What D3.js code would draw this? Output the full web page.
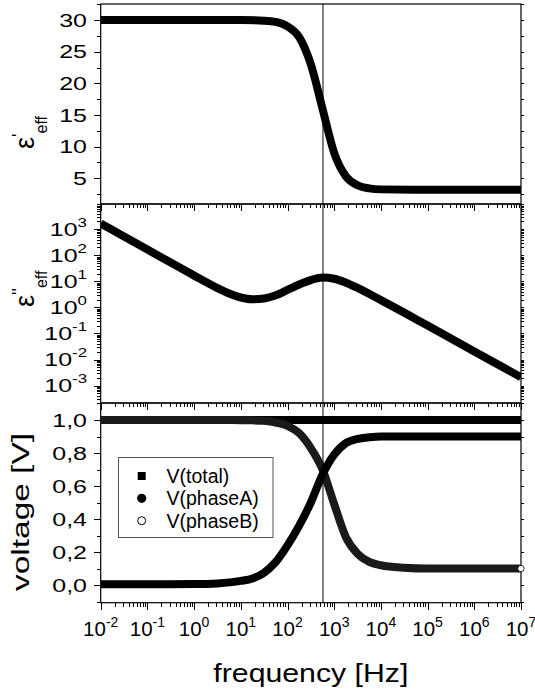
<!DOCTYPE html>
<html><head><meta charset="utf-8">
<script src="https://cdn.jsdelivr.net/npm/d3@7"></script>
<style>body{margin:0;background:#fff}</style>
</head><body>
<svg id="c" width="535" height="695"></svg>
<script>
// ---------- data ----------
const freqEps1 = [1e-2, 1e-1, 1, 10, 31.6, 56.2, 100, 178, 316, 562, 1000, 1780, 3160, 5620, 1e4, 1e5, 1e6, 1e7];
const eps1     = [30, 30, 30, 30, 29.9, 29.7, 29.0, 27.3, 23.0, 16.0, 9.0, 5.3, 3.9, 3.4, 3.25, 3.2, 3.2, 3.2];

const freqEps2 = [1e-2, 3.16e-2, 1e-1, 3.16e-1, 1, 3.16, 5.62, 10, 17.8, 31.6, 56.2, 100, 178, 316, 562, 1000, 1780, 3160, 1e4, 3.16e4, 1e5, 1e6, 1e7];
const eps2     = [1660, 525, 166, 52.5, 16.6, 5.5, 3.4, 2.4, 2.04, 2.19, 2.9, 4.7, 7.6, 11.2, 14.1, 12.6, 8.9, 5.6, 1.9, 0.63, 0.2, 0.0204, 0.0021];

const freqV   = [1e-2, 1e-1, 1, 3.16, 10, 17.8, 31.6, 56.2, 100, 178, 316, 562, 1000, 1780, 3160, 5620, 1e4, 3.16e4, 1e5, 1e6, 1e7];
const vTotal  = [1, 1, 1, 1, 1, 1, 1, 1, 1, 1, 1, 1, 1, 1, 1, 1, 1, 1, 1, 1, 1];
const vPhaseA = [0.005, 0.005, 0.006, 0.01, 0.025, 0.04, 0.075, 0.14, 0.24, 0.36, 0.50, 0.67, 0.79, 0.86, 0.885, 0.895, 0.9, 0.9, 0.9, 0.9, 0.9];
const vPhaseB = [1.0, 1.0, 1.0, 1.0, 0.999, 0.998, 0.995, 0.985, 0.965, 0.92, 0.83, 0.70, 0.49, 0.29, 0.19, 0.14, 0.12, 0.105, 0.1, 0.1, 0.1];

const markerFreq = [575];

const xTickExps  = [-2, -1, 0, 1, 2, 3, 4, 5, 6, 7];
const y1Ticks    = [5, 10, 15, 20, 25, 30];
const y2TickExps = [-3, -2, -1, 0, 1, 2, 3];
const y3Ticks    = [0, 0.2, 0.4, 0.6, 0.8, 1.0];
const y3Labels   = ["0,0", "0,2", "0,4", "0,6", "0,8", "1,0"];
const legendLabels = ["V(total)", "V(phaseA)", "V(phaseB)"];

// ---------- setup ----------
const FONT = "'Liberation Sans', Arial, Helvetica, sans-serif";
const svg = d3.select("#c").style("font-family", FONT);
const X0 = 100.7, X1 = 521;
const x = d3.scaleLog().domain([1e-2, 1e7]).range([X0, X1]);
const P = [{t: 4, b: 204}, {t: 204, b: 403}, {t: 403, b: 602.7}];
const y1 = d3.scaleLinear().domain([0.94, 32.53]).range([P[0].b, P[0].t]);
const y2 = d3.scaleLog().domain([Math.pow(10, -3.67), Math.pow(10, 3.97)]).range([P[1].b, P[1].t]);
const y3 = d3.scaleLinear().domain([-0.107, 1.103]).range([P[2].b, P[2].t]);

const xMajor = xTickExps.map(e => Math.pow(10, e));
const xMinor = [];
xTickExps.slice(0, -1).forEach(e => { for (let k = 2; k <= 9; k++) xMinor.push(k * Math.pow(10, e)); });

function logMinor(lo, hi) {
  const out = [];
  for (let e = Math.floor(Math.log10(lo)); e <= Math.ceil(Math.log10(hi)); e++)
    for (let k = 1; k <= 9; k++) { const v = k * Math.pow(10, e); if (v >= lo && v <= hi) out.push(v); }
  return out;
}

const defs = svg.append("defs");
P.forEach((p, i) => {
  defs.append("clipPath").attr("id", "clip" + i).append("rect")
    .attr("x", X0).attr("y", p.t).attr("width", X1 - X0).attr("height", p.b - p.t);
});

function axisG(axis, tx, ty) {
  const g = svg.append("g").attr("transform", `translate(${tx},${ty})`).call(axis);
  g.select(".domain").remove();
  g.selectAll("line").attr("stroke", "#000").attr("stroke-width", 1).attr("shape-rendering", "crispEdges");
  g.selectAll("text").remove();
  return g;
}

const yScales = [y1, y2, y3];
const yMajors = [y1Ticks, y2TickExps.map(e => Math.pow(10, e)), y3Ticks];
const yMinors = [
  d3.range(2.5, 32.6, 2.5).filter(v => !y1Ticks.includes(v)),
  logMinor(Math.pow(10, -3.67), Math.pow(10, 3.97)),
  d3.range(-0.1, 1.11, 0.1).map(v => +v.toFixed(2)).filter(v => !y3Ticks.includes(v))
];

P.forEach((p, i) => {
  const ys = yScales[i];
  axisG(d3.axisBottom(x).tickValues(xMajor).tickSize(7).tickFormat(""), 0, p.b);
  axisG(d3.axisBottom(x).tickValues(xMinor).tickSize(4).tickFormat(""), 0, p.b);
  axisG(d3.axisLeft(ys).tickValues(yMajors[i]).tickSize(7).tickFormat(""), X0, 0);
  axisG(d3.axisLeft(ys).tickValues(yMinors[i]).tickSize(4).tickFormat(""), X0, 0);
  axisG(d3.axisRight(ys).tickValues(yMajors[i].concat(yMinors[i])).tickSize(3).tickFormat(""), X1, 0);
  svg.append("rect").attr("x", X0).attr("y", p.t).attr("width", X1 - X0).attr("height", p.b - p.t)
    .attr("fill", "none").attr("stroke", "#000").attr("stroke-width", 1.2);
  svg.append("line").attr("x1", x(markerFreq[0])).attr("x2", x(markerFreq[0]))
    .attr("y1", p.t).attr("y2", p.b).attr("stroke", "#000").attr("stroke-width", 1);
});

// ---------- curves ----------
function drawCurve(i, xs, vals, ys, color) {
  const line = d3.line().x(d => x(d[0])).y(d => ys(d[1])).curve(d3.curveMonotoneX);
  svg.append("path").attr("clip-path", `url(#clip${i})`)
    .attr("d", line(xs.map((f, k) => [f, vals[k]])))
    .attr("fill", "none").attr("stroke", color).attr("stroke-width", 8).attr("stroke-linejoin", "round");
}
drawCurve(0, freqEps1, eps1, y1, "#000");
drawCurve(1, freqEps2, eps2, y2, "#000");
drawCurve(2, freqV, vTotal, y3, "#000");
drawCurve(2, freqV, vPhaseB, y3, "#1a1a1a");
drawCurve(2, freqV, vPhaseA, y3, "#000");
svg.append("circle").attr("cx", x(freqV[freqV.length - 1])).attr("cy", y3(vPhaseB[vPhaseB.length - 1]))
  .attr("r", 3.2).attr("fill", "#fff").attr("stroke", "#000").attr("stroke-width", 0.8);

// ---------- tick labels ----------
const xl = svg.append("g").attr("font-size", 20.5).attr("fill", "#000");
xTickExps.forEach(e => {
  const t = xl.append("text").attr("x", x(Math.pow(10, e))).attr("y", 636).attr("text-anchor", "middle");
  t.append("tspan").text("10");
  t.append("tspan").attr("font-size", 14).attr("dy", -9.5).text(String(e));
});

function yLabel(txt, yy, sup) {
  const t = svg.append("text").attr("transform", `translate(87,${yy}) scale(1.35,1)`)
    .attr("text-anchor", "end").attr("font-size", 18.5).attr("fill", "#000");
  t.append("tspan").text(txt);
  if (sup !== undefined) t.append("tspan").attr("font-size", 12.5).attr("dy", -9).text(sup);
  return t;
}
y1Ticks.forEach(v => yLabel(String(v), y1(v) + 6.6));
y2TickExps.forEach(e => yLabel("10", y2(Math.pow(10, e)) + 6.6, String(e)));
y3Ticks.forEach((v, k) => yLabel(y3Labels[k], y3(v) + 6.6));

// ---------- axis titles ----------
svg.append("text").attr("x", (X0 + X1) / 2).attr("y", 682).attr("text-anchor", "middle")
  .attr("font-size", 26).attr("textLength", 195).attr("lengthAdjust", "spacingAndGlyphs").text("frequency [Hz]");

svg.append("text").attr("transform", "translate(29,512) rotate(-90)").attr("text-anchor", "middle")
  .attr("font-size", 23).attr("textLength", 158).attr("lengthAdjust", "spacingAndGlyphs").text("voltage [V]");

function epsLabel(cx, cyStart, primes) {
  const t = svg.append("text").attr("transform", `translate(${cx},${cyStart}) rotate(-90)`)
    .attr("font-size", 27).attr("fill", "#000");
  t.append("tspan").text("ε");
  t.append("tspan").attr("font-size", 18).attr("dy", -9).text(primes);
  t.append("tspan").attr("font-size", 16).attr("dy", 22).text("eff");
}
epsLabel(34, 149, "'");
epsLabel(34, 307, "''");

// ---------- legend ----------
const lg = svg.append("g");
lg.append("rect").attr("x", 118.5).attr("y", 457.5).attr("width", 154.5).attr("height", 80)
  .attr("fill", "#fff").attr("stroke", "#555").attr("stroke-width", 1);
const ly = [476, 498.3, 520.7];
lg.append("rect").attr("x", 141.7 - 4).attr("y", ly[0] - 4).attr("width", 8).attr("height", 8).attr("fill", "#000");
lg.append("circle").attr("cx", 141.7).attr("cy", ly[1]).attr("r", 4.6).attr("fill", "#000");
lg.append("circle").attr("cx", 141.7).attr("cy", ly[2]).attr("r", 4).attr("fill", "#fff").attr("stroke", "#000").attr("stroke-width", 1);
legendLabels.forEach((s, k) => {
  lg.append("text").attr("x", 166.5).attr("y", ly[k] + 7).attr("font-size", 19.5).text(s);
});
</script>
</body></html>
